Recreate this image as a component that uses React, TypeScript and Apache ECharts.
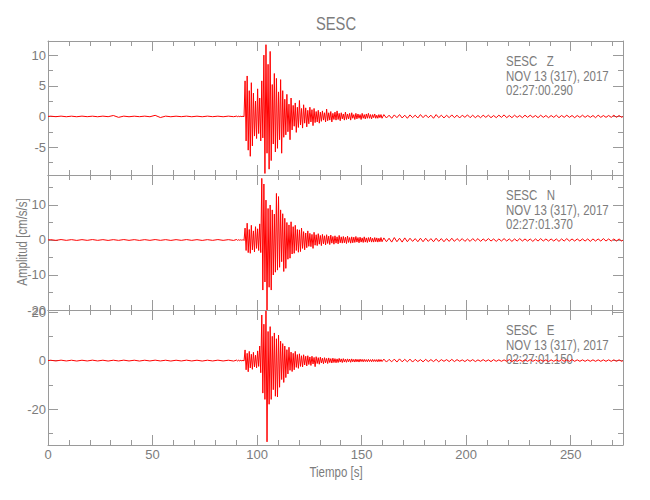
import React, { useEffect, useRef } from "react";
import * as echarts from "echarts";

// ---------- time axis ----------
const TIME_MAX = 275;
const X_MAJOR = [0, 50, 100, 150, 200, 250];
const X_MINOR = [10, 20, 30, 40, 60, 70, 80, 90, 110, 120, 130, 140, 160, 170, 180, 190, 210, 220, 230, 240, 260, 270];

// Sampling bins of the traces (start, width in s, count): quiet pre-event, strong motion, coda tail
const BIN_SEGMENTS = [
  [0, 5, 18],
  [90, 1, 70],
  [160, 2.5, 46],
];

// ---------- panel texts ----------
const STATION = "SESC";
const PANEL_LABELS = ["SESC   Z", "SESC   N", "SESC   E"];
const PANEL_DATE = "NOV 13 (317), 2017";
const PANEL_TIMES = ["02:27:00.290", "02:27:01.370", "02:27:01.150"];
const X_TITLE = "Tiempo [s]";
const Y_TITLE = "Amplitud [cm/s/s]";

// ---------- y axes ----------
const Y_RANGES = [
  [-9.55, 12.3],
  [-20, 18.57],
  [-34.8, 20.86],
];
const Y_MAJOR = [
  [-5, 0, 5, 10],
  [-20, -10, 0, 10],
  [-20, 0, 20],
];
const Y_MINOR = [
  [-7.5, -2.5, 2.5, 7.5],
  [-15, -5, 5, 15],
  [-30, -10, 10],
];

// ---------- Z component: peak (hi) and trough (lo) per bin, cm/s/s ----------
const zPreHi = [0.04, 0.05, 0.04, 0.05, 0.04, 0.05, 0.15, 0.05, 0.04, 0.05, 0.18, 0.05, 0.04, 0.05, 0.04, 0.05, 0.04, 0.05];
const zPreLo = [-0.04, -0.05, -0.05, -0.04, -0.05, -0.04, -0.15, -0.05, -0.04, -0.05, -0.18, -0.05, -0.04, -0.05, -0.05, -0.04, -0.05, -0.04];
const zHi = [
  0.05, 0.05, 0.05, 0.05, 5.8, 6.6, 4.2, 5.5, 3.8, 2.5,
  4.5, 3.0, 5.8, 10.0, 11.7, 8.5, 10.6, 5.2, 7.0, 6.2,
  4.0, 6.0, 4.2, 2.8, 3.6, 2.0, 3.0, 1.8, 2.2, 1.5,
  2.6, 1.3, 1.9, 1.4, 1.0, 1.5, 1.1, 1.3, 0.8, 1.0,
  0.7, 0.9, 0.6, 1.2, 0.6, 0.8, 0.5, 0.7, 0.9, 0.5,
  0.6, 0.4, 0.7, 0.4, 0.5, 0.6, 0.3, 0.5, 0.4, 0.3,
  0.5, 0.3, 0.4, 0.5, 0.3, 0.3, 0.4, 0.2, 0.3, 0.3,
];
const zLo = [
  -0.05, -0.05, -0.05, -0.05, -4.0, -5.5, -6.5, -4.8, -3.2, -3.6,
  -2.8, -4.0, -3.5, -9.3, -6.0, -8.6, -7.2, -4.5, -5.8, -5.2,
  -3.8, -6.0, -3.4, -3.0, -2.5, -3.8, -2.2, -1.6, -2.6, -1.8,
  -1.4, -1.9, -1.1, -1.7, -1.2, -0.9, -1.5, -1.0, -0.9, -1.1,
  -0.8, -0.6, -0.9, -0.7, -0.6, -0.9, -0.5, -0.6, -0.5, -0.7,
  -0.4, -0.6, -0.5, -0.4, -0.6, -0.3, -0.5, -0.4, -0.3, -0.5,
  -0.3, -0.4, -0.3, -0.3, -0.4, -0.2, -0.3, -0.3, -0.2, -0.3,
];
const zTailHi = [
  0.3, 0.2, 0.25, 0.3, 0.2, 0.25, 0.2, 0.3, 0.25, 0.2,
  0.3, 0.2, 0.2, 0.25, 0.2, 0.2, 0.25, 0.2, 0.15, 0.2,
  0.2, 0.15, 0.2, 0.25, 0.15, 0.2, 0.15, 0.2, 0.2, 0.15,
  0.2, 0.15, 0.15, 0.2, 0.15, 0.2, 0.15, 0.15, 0.2, 0.15,
  0.15, 0.2, 0.15, 0.15, 0.2, 0.15,
];
const zTailLo = [
  -0.25, -0.3, -0.2, -0.25, -0.3, -0.2, -0.25, -0.2, -0.2, -0.3,
  -0.2, -0.25, -0.2, -0.2, -0.25, -0.15, -0.2, -0.2, -0.2, -0.15,
  -0.2, -0.2, -0.15, -0.2, -0.2, -0.15, -0.2, -0.15, -0.15, -0.2,
  -0.15, -0.2, -0.15, -0.2, -0.15, -0.15, -0.2, -0.15, -0.15, -0.15,
  -0.2, -0.15, -0.15, -0.15, -0.15, -0.15,
];

// ---------- N component ----------
const nPreHi = [0.1, 0.12, 0.1, 0.1, 0.12, 0.1, 0.1, 0.12, 0.1, 0.1, 0.12, 0.1, 0.1, 0.12, 0.1, 0.1, 0.12, 0.1];
const nPreLo = [-0.1, -0.1, -0.12, -0.1, -0.1, -0.12, -0.1, -0.1, -0.12, -0.1, -0.1, -0.12, -0.1, -0.1, -0.12, -0.1, -0.1, -0.12];
const nHi = [
  0.15, 0.15, 0.15, 0.15, 3.4, 4.8, 3.0, 4.2, 2.6, 3.8,
  3.2, 4.6, 17.6, 16.0, 11.4, 9.0, 10.0, 8.6, 7.4, 13.3,
  12.4, 8.6, 7.5, 6.2, 5.0, 4.3, 5.2, 3.8, 4.2, 3.0,
  2.9, 3.4, 2.4, 2.0, 2.6, 1.9, 1.6, 2.2, 1.5, 1.8,
  1.3, 1.6, 1.2, 1.5, 1.1, 1.4, 1.0, 1.2, 0.9, 1.3,
  0.9, 1.0, 0.8, 1.1, 0.7, 0.9, 0.8, 1.0, 0.7, 0.8,
  0.6, 0.9, 0.6, 0.7, 0.8, 0.5, 0.7, 0.6, 0.5, 0.7,
];
const nLo = [
  -0.15, -0.15, -0.15, -0.15, -3.0, -3.6, -3.8, -2.8, -3.4, -2.4,
  -3.0, -3.6, -14.3, -12.0, -20.0, -13.5, -14.3, -10.0, -9.2, -8.6,
  -7.8, -6.2, -9.0, -8.1, -5.5, -5.2, -4.0, -3.8, -3.0, -3.5,
  -3.3, -2.4, -2.8, -2.2, -1.8, -1.9, -2.4, -1.5, -1.6, -1.2,
  -1.6, -1.1, -1.4, -1.0, -1.3, -0.9, -1.2, -0.9, -1.1, -0.8,
  -0.9, -0.8, -1.0, -0.7, -0.9, -0.8, -0.7, -0.6, -0.8, -0.6,
  -0.7, -0.6, -0.7, -0.5, -0.6, -0.6, -0.5, -0.6, -0.5, -0.5,
];
const nTailHi = [
  0.6, 0.5, 0.7, 0.5, 0.6, 0.5, 0.4, 0.5, 0.5, 0.4,
  0.5, 0.4, 0.4, 0.5, 0.4, 0.4, 0.3, 0.4, 0.4, 0.3,
  0.4, 0.3, 0.3, 0.4, 0.3, 0.3, 0.4, 0.3, 0.3, 0.3,
  0.4, 0.3, 0.3, 0.3, 0.3, 0.4, 0.3, 0.3, 0.3, 0.3,
  0.3, 0.3, 0.4, 0.3, 0.3, 0.3,
];
const nTailLo = [
  -0.5, -0.6, -0.5, -0.6, -0.5, -0.4, -0.5, -0.5, -0.4, -0.5,
  -0.4, -0.5, -0.4, -0.4, -0.3, -0.4, -0.4, -0.3, -0.4, -0.3,
  -0.3, -0.4, -0.3, -0.3, -0.4, -0.3, -0.3, -0.3, -0.4, -0.3,
  -0.3, -0.3, -0.3, -0.4, -0.3, -0.3, -0.3, -0.3, -0.3, -0.4,
  -0.3, -0.3, -0.3, -0.3, -0.3, -0.3,
];

// ---------- E component ----------
const ePreHi = [0.15, 0.18, 0.15, 0.15, 0.18, 0.15, 0.15, 0.18, 0.15, 0.15, 0.18, 0.15, 0.15, 0.18, 0.15, 0.15, 0.18, 0.15];
const ePreLo = [-0.15, -0.15, -0.18, -0.15, -0.15, -0.18, -0.15, -0.15, -0.18, -0.15, -0.15, -0.18, -0.15, -0.15, -0.18, -0.15, -0.15, -0.18];
const eHi = [
  0.2, 0.2, 0.2, 0.2, 4.4, 3.0, 3.8, 2.6, 3.4, 2.2,
  4.0, 6.0, 18.8, 15.0, 20.5, 12.0, 14.0, 10.0, 11.4, 9.0,
  10.5, 8.0, 7.0, 6.0, 4.5, 5.5, 3.5, 3.0, 3.8, 2.5,
  2.8, 2.0, 2.4, 1.8, 2.0, 1.5, 1.8, 1.3, 1.6, 1.2,
  1.4, 1.0, 1.2, 0.9, 1.1, 0.8, 1.0, 0.8, 0.7, 0.9,
  0.7, 0.8, 0.6, 0.7, 0.6, 0.7, 0.5, 0.6, 0.5, 0.6,
  0.5, 0.5, 0.4, 0.5, 0.4, 0.5, 0.4, 0.4, 0.5, 0.4,
];
const eLo = [
  -0.2, -0.2, -0.2, -0.2, -3.8, -4.6, -3.0, -3.6, -2.6, -3.0,
  -2.4, -5.0, -13.4, -16.0, -33.5, -18.0, -16.0, -12.0, -14.7, -15.0,
  -11.0, -7.8, -9.0, -7.0, -5.5, -4.0, -4.5, -3.8, -2.8, -3.2,
  -2.4, -2.6, -1.8, -2.2, -1.6, -2.0, -1.4, -2.5, -1.2, -1.5,
  -1.0, -1.3, -0.9, -1.2, -0.8, -1.0, -0.8, -0.9, -0.8, -0.6,
  -0.8, -0.6, -0.7, -0.5, -0.7, -0.5, -0.6, -0.5, -0.6, -0.4,
  -0.5, -0.4, -0.5, -0.4, -0.5, -0.4, -0.4, -0.5, -0.4, -0.4,
];
const eTailHi = [
  0.6, 0.5, 0.6, 0.7, 0.5, 0.6, 0.5, 0.4, 0.5, 0.4,
  0.5, 0.4, 0.4, 0.5, 0.4, 0.3, 0.4, 0.4, 0.3, 0.4,
  0.3, 0.4, 0.3, 0.3, 0.4, 0.3, 0.3, 0.3, 0.4, 0.3,
  0.3, 0.3, 0.3, 0.3, 0.4, 0.3, 0.4, 0.3, 0.3, 0.3,
  0.3, 0.3, 0.3, 0.3, 0.3, 0.3,
];
const eTailLo = [
  -0.6, -0.5, -0.6, -0.5, -0.5, -0.6, -0.4, -0.5, -0.4, -0.4,
  -0.5, -0.3, -0.4, -0.4, -0.3, -0.4, -0.3, -0.4, -0.3, -0.3,
  -0.4, -0.3, -0.3, -0.3, -0.4, -0.3, -0.3, -0.3, -0.3, -0.3,
  -0.3, -0.4, -0.3, -0.3, -0.3, -0.3, -0.3, -0.3, -0.3, -0.3,
  -0.3, -0.3, -0.3, -0.3, -0.3, -0.3,
];

const TRACES = [
  { hi: [...zPreHi, ...zHi, ...zTailHi], lo: [...zPreLo, ...zLo, ...zTailLo] },
  { hi: [...nPreHi, ...nHi, ...nTailHi], lo: [...nPreLo, ...nLo, ...nTailLo] },
  { hi: [...ePreHi, ...eHi, ...eTailHi], lo: [...ePreLo, ...eLo, ...eTailLo] },
];

// ---------- style ----------
const FONT = "'Liberation Sans', Arial, sans-serif";
const NARROW = 0.82;
const AXIS_COLOR = "#9a9a9a";
const TEXT_COLOR = "#7c7c7c";
const TRACE_COLOR = "#ff0000";
const GRID_LEFT = 48;
const GRID_WIDTH = 575;
const GRID_TOPS = [41, 175, 310];
const GRID_HEIGHTS = [134, 135, 135];

function buildTrace(hi: number[], lo: number[]) {
  const pts: number[][] = [[0, 0]];
  let k = 0;
  for (const [start, width, count] of BIN_SEGMENTS) {
    for (let i = 0; i < count; i++) {
      const s = start + i * width;
      pts.push([s + width * 0.25, hi[k]]);
      pts.push([s + width * 0.75, lo[k]]);
      k++;
    }
  }
  pts.push([TIME_MAX, 0]);
  return pts;
}

function label(text: string, x: number, y: number, size: number, align: string, extra: any = {}) {
  return {
    type: "text",
    x,
    y,
    scaleX: NARROW,
    ...extra,
    style: { text, fill: TEXT_COLOR, fontFamily: FONT, fontSize: size, align, verticalAlign: "middle" },
  };
}

export default function App() {
  const ref = useRef<HTMLDivElement>(null);

  useEffect(() => {
    if (!ref.current) return;
    const chart = echarts.init(ref.current, undefined, { renderer: "svg" });

    const grids: any[] = [];
    const xAxes: any[] = [];
    const yAxes: any[] = [];
    const series: any[] = [];
    const graphics: any[] = [];
    const lineStyle = { color: AXIS_COLOR, width: 1 };

    for (let g = 0; g < 3; g++) {
      grids.push({ left: GRID_LEFT, width: GRID_WIDTH, top: GRID_TOPS[g], height: GRID_HEIGHTS[g], containLabel: false });

      const xBase = { gridIndex: g, type: "value", min: 0, max: TIME_MAX, splitLine: { show: false }, minorTick: { show: false } };
      const isBottom = g === 2;
      xAxes.push({
        ...xBase,
        position: "bottom",
        axisLine: { show: true, onZero: false, lineStyle },
        axisTick: { show: true, inside: true, length: 10, customValues: X_MAJOR, lineStyle },
        axisLabel: {
          show: isBottom,
          customValues: X_MAJOR,
          color: TEXT_COLOR,
          fontFamily: FONT,
          fontSize: 13,
          margin: 3,
        },
      });
      xAxes.push({
        ...xBase,
        position: "bottom",
        axisLine: { show: false, onZero: false },
        axisTick: { show: true, inside: true, length: 5, customValues: X_MINOR, lineStyle },
        axisLabel: { show: false },
      });
      xAxes.push({
        ...xBase,
        position: "top",
        axisLine: { show: true, onZero: false, lineStyle },
        axisTick: { show: true, inside: true, length: 10, customValues: X_MAJOR, lineStyle },
        axisLabel: { show: false },
      });
      xAxes.push({
        ...xBase,
        position: "top",
        axisLine: { show: false, onZero: false },
        axisTick: { show: true, inside: true, length: 5, customValues: X_MINOR, lineStyle },
        axisLabel: { show: false },
      });

      const yBase = { gridIndex: g, type: "value", min: Y_RANGES[g][0], max: Y_RANGES[g][1], splitLine: { show: false }, minorTick: { show: false } };
      yAxes.push({
        ...yBase,
        position: "left",
        axisLine: { show: true, onZero: false, lineStyle },
        axisTick: { show: true, inside: true, length: 10, customValues: Y_MAJOR[g], lineStyle },
        axisLabel: {
          show: true,
          customValues: Y_MAJOR[g],
          color: TEXT_COLOR,
          fontFamily: FONT,
          fontSize: 13,
          margin: 2,
        },
      });
      yAxes.push({
        ...yBase,
        position: "left",
        axisLine: { show: false, onZero: false },
        axisTick: { show: true, inside: true, length: 5, customValues: Y_MINOR[g], lineStyle },
        axisLabel: { show: false },
      });
      yAxes.push({
        ...yBase,
        position: "right",
        axisLine: { show: true, onZero: false, lineStyle },
        axisTick: { show: true, inside: true, length: 10, customValues: Y_MAJOR[g], lineStyle },
        axisLabel: { show: false },
      });
      yAxes.push({
        ...yBase,
        position: "right",
        axisLine: { show: false, onZero: false },
        axisTick: { show: true, inside: true, length: 5, customValues: Y_MINOR[g], lineStyle },
        axisLabel: { show: false },
      });

      series.push({
        type: "line",
        xAxisIndex: g * 4,
        yAxisIndex: g * 4,
        data: buildTrace(TRACES[g].hi, TRACES[g].lo),
        showSymbol: false,
        symbol: "none",
        silent: true,
        clip: true,
        lineStyle: { color: TRACE_COLOR, width: 1 },
      });

      const lines = [PANEL_LABELS[g], PANEL_DATE, PANEL_TIMES[g]];
      lines.forEach((t, i) => {
        graphics.push(label(t, 506, GRID_TOPS[g] + 20 + i * 14.6, 14, "left"));
      });
    }

    graphics.push(label(STATION, 336, 23, 18, "center"));
    graphics.push(label(X_TITLE, 336, 472, 14, "center"));
    graphics.push({
      type: "text",
      x: 22,
      y: 242,
      rotation: Math.PI / 2,
      scaleX: NARROW,
      style: { text: Y_TITLE, fill: TEXT_COLOR, fontFamily: FONT, fontSize: 14, align: "center", verticalAlign: "middle" },
    });

    chart.setOption({
      animation: false,
      backgroundColor: "#ffffff",
      grid: grids,
      xAxis: xAxes,
      yAxis: yAxes,
      series,
      graphic: graphics,
    });

    return () => chart.dispose();
  }, []);

  return <div ref={ref} style={{ position: "absolute", left: 0, top: 0, width: 650, height: 500 }} />;
}
